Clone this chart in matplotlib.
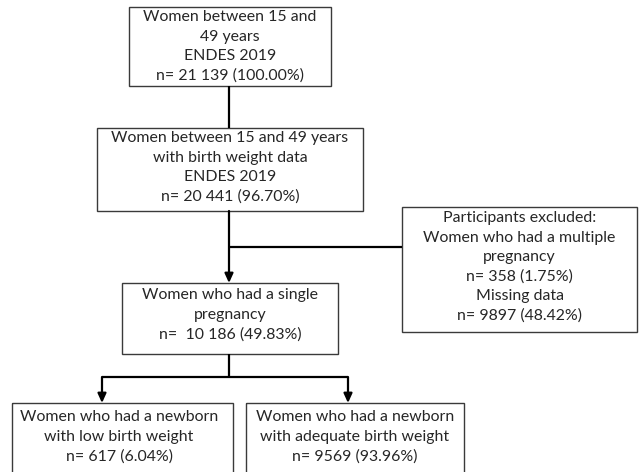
import matplotlib
matplotlib.use("Agg")
import matplotlib.pyplot as plt
from matplotlib.patches import Rectangle

plt.rcParams['font.family'] = ['Lato', 'DejaVu Sans']

# box texts
total_label = ["Women between 15 and", "49 years", "ENDES 2019", "n= 21 139 (100.00%)"]
bw_label = ["Women between 15 and 49 years", "with birth weight data", "ENDES 2019", "n= 20 441 (96.70%)"]
excluded_label = ["Participants excluded:", "Women who had a multiple", "pregnancy",
                  "n= 358 (1.75%)", "Missing data", "n= 9897 (48.42%)"]
single_label = ["Women who had a single", "pregnancy", "n=  10 186 (49.83%)"]
low_label = ["Women who had a newborn", "with low birth weight", "n= 617 (6.04%)"]
adequate_label = ["Women who had a newborn", "with adequate birth weight", "n= 9569 (93.96%)"]

# layout in pixels: (left, top, right, bottom)
boxes = {
    "total": (129, 7, 331, 86),
    "bw": (97, 128, 363, 211),
    "excluded": (402, 207, 637, 332),
    "single": (122, 283, 338, 354),
    "low": (12, 403, 233, 480),
    "adequate": (246, 403, 464, 480),
}
labels = {
    "total": total_label, "bw": bw_label, "excluded": excluded_label,
    "single": single_label, "low": low_label, "adequate": adequate_label,
}
first_line = {"total": 17, "bw": 138, "excluded": 218, "single": 295,
              "low": 417, "adequate": 417}
line_step = 19.6

fig = plt.figure(figsize=(6.42, 4.72), dpi=100)
ax = fig.add_axes([0, 0, 1, 1])
ax.set_xlim(0, 642)
ax.set_ylim(472, 0)
ax.axis("off")

for key, (l, t, r, b) in boxes.items():
    ax.add_patch(Rectangle((l, t), r - l, b - t, fill=False, edgecolor="#3a3a3a", lw=1.0))
    cx = (l + r) / 2
    if key == "low":
        cx = 119
    for i, s in enumerate(labels[key]):
        ax.text(cx, first_line[key] + i * line_step, s, ha="center", va="center",
                fontsize=11.4, color="#262626")

line_kw = dict(color="black", lw=1.6, solid_capstyle="butt")
arrow_kw = dict(arrowstyle="-|>,head_length=0.55,head_width=0.25", color="black", lw=1.6,
                shrinkA=0, shrinkB=0)

cx = 229
ax.plot([cx, cx], [86, 128], **line_kw)
ax.annotate("", xy=(cx, 283), xytext=(cx, 211), arrowprops=arrow_kw)
ax.plot([cx, 402], [247, 247], **line_kw)
ax.plot([cx, cx], [354, 377], **line_kw)
ax.plot([102, 348], [377, 377], **line_kw)
ax.annotate("", xy=(102, 403), xytext=(102, 377), arrowprops=arrow_kw)
ax.annotate("", xy=(348, 403), xytext=(348, 377), arrowprops=arrow_kw)

fig.savefig("out.png", dpi=100)
